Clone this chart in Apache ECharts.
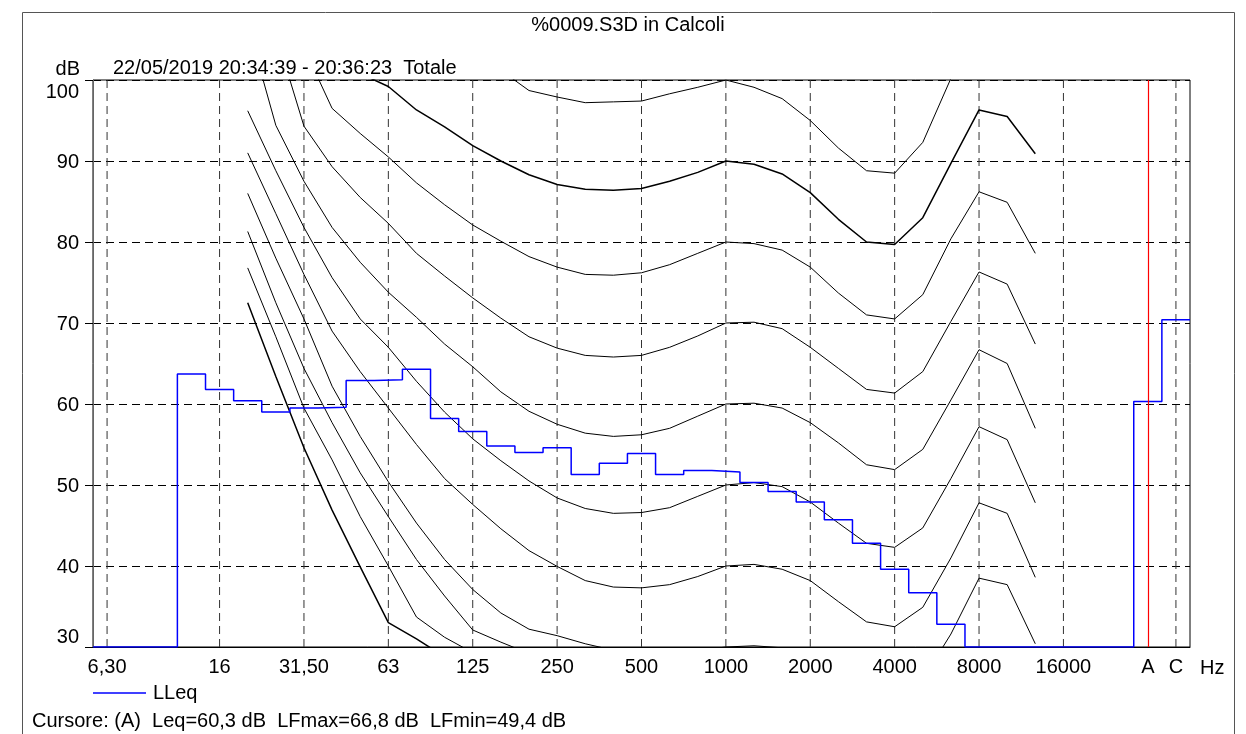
<!DOCTYPE html>
<html>
<head>
<meta charset="utf-8">
<title>%0009.S3D in Calcoli</title>
<script src="https://cdn.jsdelivr.net/npm/echarts@6/dist/echarts.min.js"></script>
<style>
  html, body { margin: 0; padding: 0; background: #fff; }
  #chart { width: 1246px; height: 734px; }
</style>
</head>
<body>
<div id="chart"></div>
<script>
// bande di terzi d'ottava, poi una casella vuota e i globali A e C
var bands = ['6,30','8','10','12,50','16','20','25','31,50','40','50',
  '63','80','100','125','160','200','250','315','400','500',
  '630','800','1000','1250','1600','2000','2500','3150','4000','5000',
  '6300','8000','10000','12500','16000','20000','','A','C'];
var tickLabels = ['6,30','16','31,50','63','125','250','500','1000','2000','4000','8000','16000','A','C'];
var yMin = 30, yMax = 100, yStep = 10;

// LLeq per banda (dB)
var lleq = [30, 30, 30, 63.7, 61.8, 60.4, 59.0, 59.5, 59.6, 62.9,
  63.0, 64.3, 58.2, 56.6, 54.8, 54.0, 54.6, 51.3, 52.7, 53.9,
  51.3, 51.8, 51.6, 50.3, 49.2, 47.9, 45.7, 42.8, 39.6, 36.7,
  32.8, 30, 30, 30, 30, 30, 30, 60.3, 70.4];

var cursorBand = 'A';

// curve isofoniche, valori da 20 Hz a 12500 Hz
var isoFirstBand = '20';
var phon0 = [72.5, 63.4, 54.6, 46.9, 39.9, 33.0, 31.0, 28.8];
var phon10 = [76.8, 68.3, 59.5, 53.1, 46.1, 40.0, 33.7, 31.2, 29.3, 27.5];
var phon20 = [81.3, 72.5, 64.4, 57.7, 51.5, 46.1, 40.8, 36.3, 32.1, 30.6, 29.2, 27.8];
var phon30 = [86.0, 78.0, 70.5, 62.2, 56.0, 50.4, 45.3, 40.8, 37.1, 34.2, 32.2, 31.4, 30.4, 29.6, 29.2,
  29.3, 29.6, 30.0, 30.15, 29.9, 28.5, 25.5, 23.3, 22.8, 26.0, 31.6, 38.5, 37.7, 30.4];
var phon40 = [91.0, 83.5, 76.0, 69.0, 64.0, 59.5, 55.0, 50.8, 47.6, 44.6, 41.9, 39.95, 38.2, 37.4, 37.3,
  37.7, 38.7, 40.0, 40.2, 39.6, 38.2, 35.6, 33.1, 32.5, 34.9, 41.0, 47.8, 46.5, 38.6];
var phon50 = [96.2, 88.8, 81.8, 75.6, 70.5, 67.0, 62.8, 59.0, 55.7, 53.0, 50.5, 48.4, 47.1, 46.5, 46.6,
  47.2, 48.6, 50.0, 50.3, 49.8, 47.9, 45.3, 42.8, 42.3, 44.7, 50.8, 57.2, 55.6, 47.8];
var phon60 = [106.8, 94.4, 87.5, 81.8, 77.5, 73.8, 70.7, 67.4, 64.6, 61.5, 59.1, 57.5, 56.4, 56.0, 56.2,
  57.0, 58.5, 60.0, 60.1, 59.5, 57.7, 55.2, 52.5, 51.9, 54.4, 60.5, 66.7, 65.0, 57.0];
var phon70 = [null, 105.7, 94.3, 89.3, 85.5, 82.3, 78.6, 75.8, 73.1, 70.6, 68.3, 66.9, 66.0, 65.8, 66.0,
  67.0, 68.4, 70.0, 70.1, 69.3, 67.0, 64.4, 61.8, 61.35, 64.0, 70.2, 76.3, 74.8, 67.4];
var phon80 = [null, null, 104.0, 96.5, 93.4, 90.5, 87.3, 84.6, 82.1, 80.1, 78.2, 76.9, 76.0, 75.9, 76.2,
  77.2, 78.6, 80.0, 79.8, 79.0, 76.9, 73.7, 71.0, 70.5, 73.5, 80.4, 86.2, 84.9, 78.6];
var phon90 = [null, null, null, null, 100.8, 99.2, 96.3, 94.2, 91.9, 90.0, 88.3, 87.1, 86.5, 86.4, 86.6,
  87.5, 88.6, 90.0, 89.6, 88.4, 86.1, 82.8, 80.0, 79.7, 83.0, 89.7, 96.3, 95.5, 90.9];
var phon100 = [null, null, null, null, null, null, null, null, 103.5, 101.2, 98.7, 97.9, 97.2, 97.3, 97.4,
  98.3, 99.1, 100.0, 99.1, 97.7, 95.0, 91.6, 88.8, 88.5, 92.3, 100.2, 106.0, 105.0, 100.5];

var contours = [
  { name: '0 phon', values: phon0, width: 1.5 },
  { name: '10 phon', values: phon10, width: 1 },
  { name: '20 phon', values: phon20, width: 1 },
  { name: '30 phon', values: phon30, width: 1 },
  { name: '40 phon', values: phon40, width: 1 },
  { name: '50 phon', values: phon50, width: 1 },
  { name: '60 phon', values: phon60, width: 1 },
  { name: '70 phon', values: phon70, width: 1 },
  { name: '80 phon', values: phon80, width: 1 },
  { name: '90 phon', values: phon90, width: 1.5 },
  { name: '100 phon', values: phon100, width: 1 }
];

var FONT = '"Liberation Sans", Arial, Helvetica, sans-serif';

// curva isofonica allineata alle bande
function contourData(values) {
  var start = bands.indexOf(isoFirstBand);
  var out = bands.map(function () { return null; });
  values.forEach(function (v, k) { out[start + k] = v; });
  return out;
}

// gradini: ogni banda occupa tutta la sua larghezza
function stepData(values) {
  var pts = [];
  values.forEach(function (v, i) {
    pts.push([i - 0.5, v]);
    pts.push([i + 0.5, v]);
  });
  return pts;
}

// griglia verticale tratteggiata sulle bande con etichetta (il cursore copre la sua)
var series = [{
  name: 'griglia',
  type: 'custom',
  xAxisIndex: 1,
  yAxisIndex: 0,
  silent: true,
  z: 1,
  data: tickLabels.filter(function (l) { return l !== cursorBand; })
    .map(function (l) { return [bands.indexOf(l)]; }),
  renderItem: function (params, api) {
    var x = api.value(0);
    var p1 = api.coord([x, yMax]);
    var p2 = api.coord([x, yMin]);
    return {
      type: 'line',
      shape: { x1: p1[0], y1: p1[1], x2: p2[0], y2: p2[1] },
      style: { stroke: '#333', lineWidth: 1, lineDash: [8, 5] }
    };
  }
}];

contours.forEach(function (c) {
  series.push({
    name: c.name,
    type: 'line',
    xAxisIndex: 0,
    yAxisIndex: 0,
    data: contourData(c.values),
    symbol: 'none',
    silent: true,
    z: 2,
    lineStyle: { color: '#000', width: c.width }
  });
});

series.push({
  name: 'LLeq',
  type: 'line',
  xAxisIndex: 1,
  yAxisIndex: 0,
  data: stepData(lleq),
  symbol: 'none',
  z: 4,
  color: '#0000ff',
  lineStyle: { color: '#0000ff', width: 1.5 },
  markLine: {
    silent: true,
    symbol: ['none', 'none'],
    label: { show: false },
    lineStyle: { color: '#ff0000', type: 'solid', width: 1.2 },
    data: [{ xAxis: bands.indexOf(cursorBand) }]
  }
});

var chart = echarts.init(document.getElementById('chart'), null, { renderer: 'canvas' });
chart.setOption({
  animation: false,
  backgroundColor: '#fff',
  textStyle: { fontFamily: FONT },
  grid: {
    left: 93, top: 80, width: 1097, height: 567,
    show: true, borderColor: '#000', borderWidth: 1
  },
  legend: {
    data: ['LLeq'],
    left: 88, top: 678,
    icon: 'rect',
    itemWidth: 53, itemHeight: 1.5,
    textStyle: { fontSize: 20, color: '#000', fontFamily: FONT, padding: [0, 0, 0, 2] }
  },
  xAxis: [{
    type: 'category',
    data: bands,
    boundaryGap: true,
    axisLine: { show: true, onZero: false, lineStyle: { color: '#000', width: 1 } },
    axisTick: { show: false },
    axisLabel: {
      interval: function (i, v) { return tickLabels.indexOf(v) >= 0; },
      margin: 10, fontSize: 20, color: '#000', fontFamily: FONT
    },
    splitLine: { show: false }
  }, {
    type: 'value',
    min: -0.5,
    max: bands.length - 0.5,
    show: false,
    axisLine: { show: false, onZero: false },
    splitLine: { show: false }
  }],
  yAxis: {
    type: 'value',
    min: yMin, max: yMax, interval: yStep,
    axisLine: { show: true, onZero: false, lineStyle: { color: '#666' } },
    axisTick: { show: true, length: 8, lineStyle: { color: '#000' } },
    axisLabel: {
      margin: 14, fontSize: 20, color: '#000', fontFamily: FONT,
      // le etichette estreme restano dentro l'area del grafico
      formatter: function (v) {
        if (v === yMax) return '{top|' + v + '}';
        if (v === yMin) return '{bot|' + v + '}';
        return '{mid|' + v + '}';
      },
      rich: {
        top: { fontSize: 20, color: '#000', fontFamily: FONT, padding: [24, 0, 0, 0] },
        bot: { fontSize: 20, color: '#000', fontFamily: FONT, padding: [0, 0, 20, 0] },
        mid: { fontSize: 20, color: '#000', fontFamily: FONT, padding: [3, 0, 0, 0] }
      }
    },
    splitLine: { show: true, lineStyle: { color: '#000', type: [8, 5], width: 1 } }
  },
  graphic: [
    { type: 'rect', shape: { x: 22.5, y: 12.5, width: 1212, height: 760 },
      style: { fill: 'none', stroke: '#555', lineWidth: 1 }, silent: true },
    { type: 'text', x: 628, y: 25,
      style: { text: '%0009.S3D in Calcoli', font: '20px ' + FONT, fill: '#000',
        align: 'center', verticalAlign: 'middle', textAlign: 'center', textVerticalAlign: 'middle' } },
    { type: 'text', x: 113, y: 68,
      style: { text: '22/05/2019 20:34:39 - 20:36:23  Totale', font: '20px ' + FONT, fill: '#000',
        align: 'left', verticalAlign: 'middle', textAlign: 'left', textVerticalAlign: 'middle' } },
    { type: 'text', x: 80, y: 69,
      style: { text: 'dB', font: '20px ' + FONT, fill: '#000',
        align: 'right', verticalAlign: 'middle', textAlign: 'right', textVerticalAlign: 'middle' } },
    { type: 'text', x: 1200, y: 668,
      style: { text: 'Hz', font: '20px ' + FONT, fill: '#000',
        align: 'left', verticalAlign: 'middle', textAlign: 'left', textVerticalAlign: 'middle' } },
    { type: 'text', x: 32, y: 721,
      style: { text: 'Cursore: (A)  Leq=60,3 dB  LFmax=66,8 dB  LFmin=49,4 dB', font: '20px ' + FONT, fill: '#000',
        align: 'left', verticalAlign: 'middle', textAlign: 'left', textVerticalAlign: 'middle' } }
  ],
  series: series
});
</script>
</body>
</html>
